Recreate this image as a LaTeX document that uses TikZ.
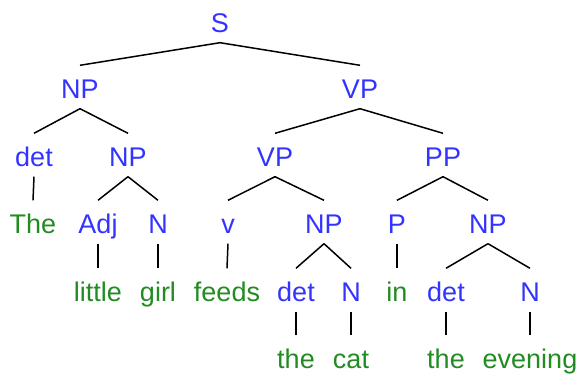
\documentclass[tikz,border=0pt]{standalone}
\usepackage{fontspec}
\setmainfont{Liberation Sans}
\definecolor{tagblue}{RGB}{51,51,255}
\definecolor{wordgreen}{RGB}{34,139,34}

\begin{document}
\begin{tikzpicture}[x=1pt,y=-1pt,
  every node/.style={inner sep=0pt,text height=19pt,text depth=0pt,font=\fontsize{27}{30}\selectfont},
  tag/.style={text=tagblue},
  word/.style={text=wordgreen},
  branch/.style={black,line width=1.5pt}]
\useasboundingbox (0,0) rectangle (582,379);
\node[tag] (s) at (220,23) {S};
\node[tag] (np) at (80,89) {NP};
\node[tag] (vp) at (360,89) {VP};
\node[tag] (det) at (34,157) {det};
\node[tag] (npa) at (128,157) {NP};
\node[tag] (vpa) at (275,157) {VP};
\node[tag] (pp) at (443,157) {PP};
\node[word] (the) at (33,224) {The};
\node[tag] (adj) at (98,224) {Adj};
\node[tag] (n) at (158,224) {N};
\node[tag] (v) at (228,224) {v};
\node[tag] (npb) at (324,224) {NP};
\node[tag] (p) at (397,224) {P};
\node[tag] (npc) at (488,224) {NP};
\node[word] (little) at (98,292) {little};
\node[word] (girl) at (158,292) {girl};
\node[word] (feeds) at (227,292) {feeds};
\node[tag] (detb) at (296,292) {det};
\node[tag] (nb) at (351,292) {N};
\node[word] (in) at (397,292) {in};
\node[tag] (detc) at (446,292) {det};
\node[tag] (nc) at (530,292) {N};
\node[word] (theb) at (296,359) {the};
\node[word] (cat) at (351,359) {cat};
\node[word] (thec) at (446,359) {the};
\node[word] (evening) at (530,359) {evening};
% branches
\draw[branch] ([yshift=-10pt]s.south) -- ([yshift=14pt]np.north);
\draw[branch] ([yshift=-10pt]s.south) -- ([yshift=14pt]vp.north);
\draw[branch] ([yshift=-10pt]np.south) -- ([yshift=14pt]det.north);
\draw[branch] ([yshift=-10pt]np.south) -- ([yshift=14pt]npa.north);
\draw[branch] ([yshift=-10pt]vp.south) -- ([yshift=14pt]vpa.north);
\draw[branch] ([yshift=-10pt]vp.south) -- ([yshift=14pt]pp.north);
\draw[branch] ([yshift=-10pt]det.south) -- ([yshift=14pt]the.north);
\draw[branch] ([yshift=-10pt]npa.south) -- ([yshift=14pt]adj.north);
\draw[branch] ([yshift=-10pt]npa.south) -- ([yshift=14pt]n.north);
\draw[branch] ([yshift=-10pt]vpa.south) -- ([yshift=14pt]v.north);
\draw[branch] ([yshift=-10pt]vpa.south) -- ([yshift=14pt]npb.north);
\draw[branch] ([yshift=-10pt]pp.south) -- ([yshift=14pt]p.north);
\draw[branch] ([yshift=-10pt]pp.south) -- ([yshift=14pt]npc.north);
\draw[branch] ([yshift=-10pt]adj.south) -- ([yshift=14pt]little.north);
\draw[branch] ([yshift=-10pt]n.south) -- ([yshift=14pt]girl.north);
\draw[branch] ([yshift=-10pt]v.south) -- ([yshift=14pt]feeds.north);
\draw[branch] ([yshift=-10pt]npb.south) -- ([yshift=14pt]detb.north);
\draw[branch] ([yshift=-10pt]npb.south) -- ([yshift=14pt]nb.north);
\draw[branch] ([yshift=-10pt]p.south) -- ([yshift=14pt]in.north);
\draw[branch] ([yshift=-10pt]npc.south) -- ([yshift=14pt]detc.north);
\draw[branch] ([yshift=-10pt]npc.south) -- ([yshift=14pt]nc.north);
\draw[branch] ([yshift=-10pt]detb.south) -- ([yshift=14pt]theb.north);
\draw[branch] ([yshift=-10pt]nb.south) -- ([yshift=14pt]cat.north);
\draw[branch] ([yshift=-10pt]detc.south) -- ([yshift=14pt]thec.north);
\draw[branch] ([yshift=-10pt]nc.south) -- ([yshift=14pt]evening.north);
\end{tikzpicture}
\end{document}
